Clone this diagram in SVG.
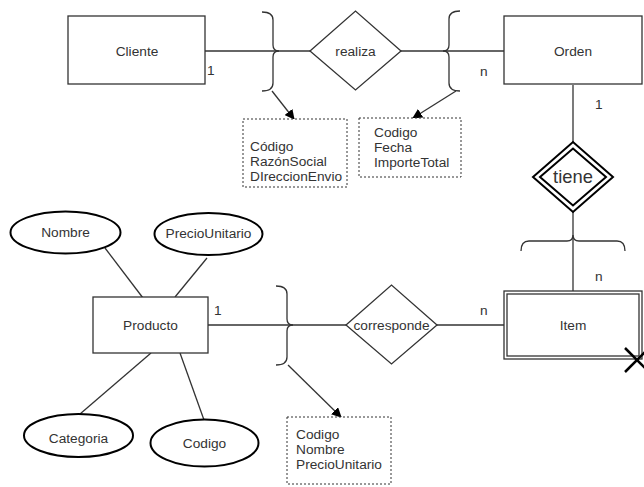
<svg xmlns="http://www.w3.org/2000/svg" width="644" height="487" viewBox="0 0 644 487">
  <defs>
    <marker id="arrow" viewBox="0 0 10 10" refX="9" refY="5" markerWidth="10" markerHeight="10" markerUnits="userSpaceOnUse" orient="auto">
      <path d="M0,0 L10,5 L0,10 Z" fill="#000"/>
    </marker>
    <style>
      .lbl { font-family: "Liberation Sans", Arial, sans-serif; font-size: 13.7px; fill: #333; }
      .mid { text-anchor: middle; dominant-baseline: central; }
      .ent { fill: #fff; stroke: #333; stroke-width: 1.3; }
      .rel { fill: #fff; stroke: #333; stroke-width: 1.3; }
      .att { fill: #fff; stroke: #000; stroke-width: 2; }
      .note { fill: #fff; stroke: #333; stroke-width: 1; stroke-dasharray: 2 2; }
      .edge { fill: none; stroke: #333; stroke-width: 1.3; }
      .brace { fill: none; stroke: #333; stroke-width: 1.3; }
    </style>
  </defs>
  <rect width="644" height="487" fill="#fff"/>

  <!-- connectors -->
  <g id="connectors">
    <line class="edge" x1="205" y1="51" x2="310" y2="51"/>
    <line class="edge" x1="401" y1="51" x2="504" y2="51"/>
    <line class="edge" x1="573" y1="85" x2="573" y2="142"/>
    <line class="edge" x1="573" y1="212" x2="573" y2="291"/>
    <line class="edge" x1="208" y1="325" x2="346" y2="325"/>
    <line class="edge" x1="437" y1="325" x2="504" y2="325"/>
    <line class="edge" x1="105" y1="248" x2="143" y2="298"/>
    <line class="edge" x1="207" y1="258" x2="175" y2="297"/>
    <line class="edge" x1="80" y1="414" x2="151" y2="353"/>
    <line class="edge" x1="204" y1="420" x2="180" y2="353"/>
    <!-- braces -->
    <path class="brace" d="M262,12 Q273,12 273,20 L273,45 Q273,51 279,51 Q273,51 273,57 L273,83 Q273,91 262,91"/>
    <path class="brace" d="M460,11 Q449,11 449,19 L449,45 Q449,51 443,51 Q449,51 449,57 L449,83 Q449,91 460,91"/>
    <path class="brace" d="M276,286 Q287,286 287,294 L287,319 Q287,325 293,325 Q287,325 287,331 L287,357 Q287,365 276,365"/>
    <path class="brace" d="M521,251 Q521,241 529,241 L567,241 Q573,241 573,235 Q573,241 579,241 L617,241 Q625,241 625,251"/>
    <!-- attribute pointers -->
    <line class="edge" x1="272" y1="91" x2="294" y2="119" marker-end="url(#arrow)"/>
    <line class="edge" x1="456" y1="91" x2="413" y2="118" marker-end="url(#arrow)"/>
    <line class="edge" x1="288" y1="365" x2="341" y2="417" marker-end="url(#arrow)"/>
    <!-- cardinalities -->
    <text class="lbl" x="207" y="75">1</text>
    <text class="lbl" x="480" y="76">n</text>
    <text class="lbl" x="595" y="109">1</text>
    <text class="lbl" x="595" y="281">n</text>
    <text class="lbl" x="214" y="315">1</text>
    <text class="lbl" x="480" y="315">n</text>
  </g>

  <g id="cliente">
    <rect class="ent" x="68" y="16" width="137" height="68"/>
    <text class="lbl mid" x="137" y="51">Cliente</text>
  </g>

  <g id="realiza">
    <polygon class="rel" points="310,51 355.5,11 401,51 355.5,90"/>
    <text class="lbl mid" x="355.5" y="51">realiza</text>
  </g>

  <g id="orden">
    <rect class="ent" x="504" y="16" width="138" height="68"/>
    <text class="lbl mid" x="573" y="51">Orden</text>
  </g>

  <g id="tiene">
    <polygon fill="#fff" stroke="#000" stroke-width="2" points="533,177 573,142 613,177 573,212"/>
    <polygon fill="none" stroke="#000" stroke-width="2" points="540,177 573,148.5 606,177 573,205.5"/>
    <text x="573" y="183" text-anchor="middle" font-family="'Liberation Sans', Arial, sans-serif" font-size="18.4" fill="#333">tiene</text>
  </g>

  <g id="item">
    <rect class="ent" x="504" y="291" width="138" height="68"/>
    <rect fill="none" stroke="#333" stroke-width="1.3" x="507" y="294" width="132" height="62"/>
    <text class="lbl mid" x="573" y="325">Item</text>
    <line x1="625" y1="348" x2="649" y2="372" stroke="#000" stroke-width="2.5"/>
    <line x1="625" y1="372" x2="649" y2="348" stroke="#000" stroke-width="2.5"/>
  </g>

  <g id="corresponde">
    <polygon class="rel" points="346,325 391.5,285 437,325 391.5,364"/>
    <text class="lbl mid" x="391.5" y="325">corresponde</text>
  </g>

  <g id="producto">
    <rect class="ent" x="93" y="297" width="115" height="56"/>
    <text class="lbl mid" x="150.5" y="325">Producto</text>
  </g>

  <g id="attr-nombre">
    <ellipse class="att" cx="65.5" cy="232.5" rx="55" ry="21"/>
    <text class="lbl mid" x="65.5" y="232">Nombre</text>
  </g>
  <g id="attr-preciounitario">
    <ellipse class="att" cx="208.5" cy="234" rx="54" ry="21"/>
    <text class="lbl mid" x="208.5" y="233.5">PrecioUnitario</text>
  </g>
  <g id="attr-categoria">
    <ellipse class="att" cx="78.5" cy="435.5" rx="54.5" ry="21.5"/>
    <text class="lbl mid" x="78.5" y="438">Categoria</text>
  </g>
  <g id="attr-codigo">
    <ellipse class="att" cx="204.5" cy="443" rx="54" ry="23.5"/>
    <text class="lbl mid" x="204.5" y="443">Codigo</text>
  </g>

  <g id="note-cliente">
    <rect class="note" x="243" y="119" width="104" height="68"/>
    <text class="lbl" x="250" y="151">Código</text>
    <text class="lbl" x="250" y="166">RazónSocial</text>
    <text class="lbl" x="250" y="181">DIreccionEnvio</text>
  </g>

  <g id="note-orden">
    <rect class="note" x="359" y="118" width="102" height="59"/>
    <text class="lbl" x="374" y="137">Codigo</text>
    <text class="lbl" x="374" y="152">Fecha</text>
    <text class="lbl" x="374" y="167">ImporteTotal</text>
  </g>

  <g id="note-corresponde">
    <rect class="note" x="287" y="417" width="104" height="67"/>
    <text class="lbl" x="296" y="439">Codigo</text>
    <text class="lbl" x="296" y="454">Nombre</text>
    <text class="lbl" x="296" y="469">PrecioUnitario</text>
  </g>
</svg>
